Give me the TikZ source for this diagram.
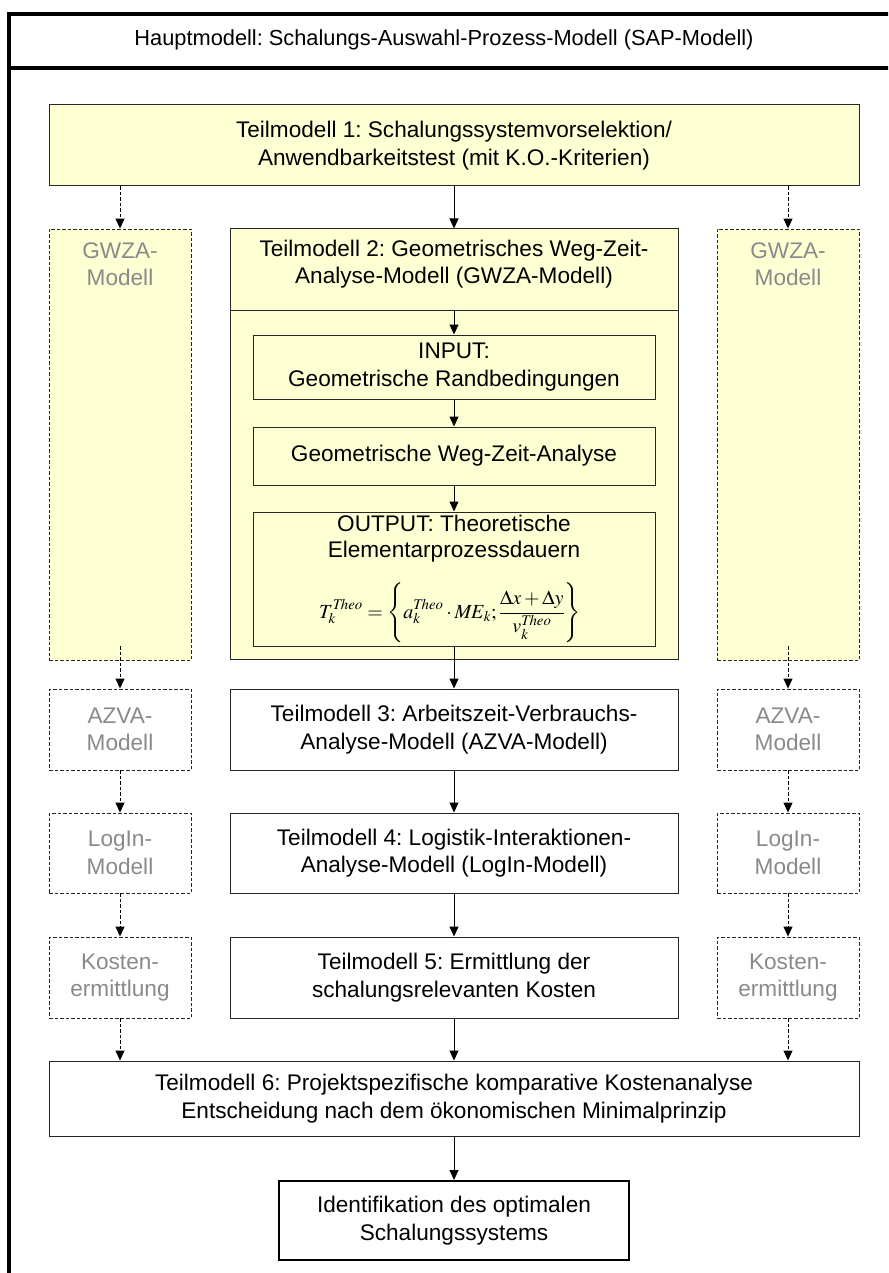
\documentclass[tikz,border=0pt]{standalone}
\usepackage{mathptmx}
\usepackage{fontspec}
\setmainfont{Liberation Sans}
\frenchspacing
\usetikzlibrary{arrows.meta}
\definecolor{boxyellow}{HTML}{FFFFD4}
\definecolor{softgray}{HTML}{8A8A8A}
\definecolor{edge}{HTML}{262626}
\newcommand{\bodyfont}{\fontsize{22.6}{27.5}\selectfont}
\tikzset{
  framepart/.style={line width=4pt, draw=black},
  solidbox/.style={draw=edge, line width=1pt, fill=white, inner sep=0pt, align=center, font=\bodyfont},
  yellowbox/.style={solidbox, fill=boxyellow},
  dashbox/.style={draw=edge, line width=0.9pt, dash pattern=on 3.5pt off 2pt, inner sep=0pt,
    align=center, font=\bodyfont, text=softgray, fill=white},
  label/.style={inner sep=0pt, align=center, font=\bodyfont},
  flow/.style={-{Triangle[length=10pt,width=9pt]}, line width=1pt, draw=black},
  dflow/.style={flow, dash pattern=on 3.5pt off 2pt}
}
\begin{document}
\begin{tikzpicture}[x=1pt,y=-1pt]
  \useasboundingbox (0,0) rectangle (888,1273);
  \clip (0,0) rectangle (888,1273);
  \fill[white] (0,0) rectangle (888,1273);

  % outer frame of the main model with its title bar
  \draw[framepart] (9,1290) -- (9,14) -- (900,14);
  \draw[framepart] (9,68) -- (900,68);
  \node[label, font=\fontsize{21.8}{26}\selectfont] (hdr) at (444,40)
    {Hauptmodell: Schalungs-Auswahl-Prozess-Modell (SAP-Modell)};

  % Teilmodell 1
  \node[yellowbox, minimum width=810, minimum height=81] (tm1) at (454,145.5)
    {Teilmodell 1: Schalungssystemvorselektion/\\Anwendbarkeitstest (mit K.O.-Kriterien)};

  % parallel GWZA models (left and right)
  \node[dashbox, fill=boxyellow, minimum width=142, minimum height=431] (gwzaL) at (120,444.5) {};
  \node[dashbox, fill=boxyellow, minimum width=142, minimum height=431] (gwzaR) at (788,444.5) {};
  \node[label, text=softgray] (gwzaLtxt) at (120,264) {GWZA-\\Modell};
  \node[label, text=softgray] (gwzaRtxt) at (788,264) {GWZA-\\Modell};

  % Teilmodell 2 with its inner steps
  \node[yellowbox, minimum width=448, minimum height=430] (tm2) at (454,444) {};
  \draw[edge, line width=1pt] (230,310) -- (678,310);
  \coordinate (tm2hd) at (454,310);
  \node[label] (tm2txt) at (454,264)
    {Teilmodell 2: Geometrisches Weg-Zeit-\\Analyse-Modell (GWZA-Modell)};
  \node[yellowbox, minimum width=402, minimum height=64] (in1) at (454,367)
    {INPUT:\\Geometrische Randbedingungen};
  \node[yellowbox, minimum width=402, minimum height=58] (in2) at (454,456)
    {Geometrische Weg-Zeit-Analyse};
  \node[yellowbox, minimum width=402, minimum height=134] (in3) at (454,579) {};
  \node[label, anchor=base] (outtxt1) at (454,531) {OUTPUT: Theoretische};
  \node[label, anchor=base] (outtxt2) at (454,557) {Elementarprozessdauern};
  \node[label, font=\fontsize{20}{24}\selectfont] (formula) at (450,613)
    {$\displaystyle T_k^{\mathit{Theo}} = \left\{ a_k^{\mathit{Theo}} \cdot \mathit{ME}_k;
      \frac{\Delta x + \Delta y}{v_k^{\mathit{Theo}}} \right\}$};
  \coordinate (gwzaLout) at (120,646);
  \coordinate (gwzaRout) at (788,646);

  % Teilmodelle 3 to 5 and their parallel counterparts
  \node[solidbox, minimum width=448, minimum height=81] (tm3) at (454,729.5)
    {Teilmodell 3: Arbeitszeit-Verbrauchs-\\Analyse-Modell (AZVA-Modell)};
  \node[dashbox, minimum width=142, minimum height=81] (azvaL) at (120,729.5) {AZVA-\\Modell};
  \node[dashbox, minimum width=142, minimum height=81] (azvaR) at (788,729.5) {AZVA-\\Modell};

  \node[solidbox, minimum width=448, minimum height=80] (tm4) at (454,853)
    {Teilmodell 4: Logistik-Interaktionen-\\Analyse-Modell (LogIn-Modell)};
  \node[dashbox, minimum width=142, minimum height=80] (loginL) at (120,853) {LogIn-\\Modell};
  \node[dashbox, minimum width=142, minimum height=80] (loginR) at (788,853) {LogIn-\\Modell};

  \node[solidbox, minimum width=448, minimum height=81] (tm5) at (454,977.5)
    {Teilmodell 5: Ermittlung der\\schalungsrelevanten Kosten};
  \node[dashbox, minimum width=142, minimum height=81] (kostL) at (120,977.5) {Kosten-\\ermittlung};
  \node[dashbox, minimum width=142, minimum height=81] (kostR) at (788,977.5) {Kosten-\\ermittlung};

  % Teilmodell 6 and result
  \node[solidbox, minimum width=810, minimum height=75] (tm6) at (454,1098.5)
    {Teilmodell 6: Projektspezifische komparative Kostenanalyse\\Entscheidung nach dem ökonomischen Minimalprinzip};
  \node[solidbox, line width=2pt, draw=black, minimum width=350, minimum height=79] (final) at (454,1220.5)
    {Identifikation des optimalen\\Schalungssystems};

  % main flow
  \draw[flow] (tm1.south) -- (tm2.north);
  \draw[flow] (tm2hd) -- (in1.north);
  \draw[flow] (in1.south) -- (in2.north);
  \draw[flow] (in2.south) -- (in3.north);
  \draw[flow] (in3.south) -- (tm3.north);
  \draw[flow] (tm3.south) -- (tm4.north);
  \draw[flow] (tm4.south) -- (tm5.north);
  \draw[flow] (tm5.south) -- (tm6.north);
  \draw[flow] (tm6.south) -- (final.north);

  % parallel flows (dashed)
  \draw[dflow] (tm1.south -| gwzaL.north) -- (gwzaL.north);
  \draw[dflow] (tm1.south -| gwzaR.north) -- (gwzaR.north);
  \draw[dflow] (gwzaLout) -- (azvaL.north);
  \draw[dflow] (gwzaRout) -- (azvaR.north);
  \draw[dflow] (azvaL.south) -- (loginL.north);
  \draw[dflow] (azvaR.south) -- (loginR.north);
  \draw[dflow] (loginL.south) -- (kostL.north);
  \draw[dflow] (loginR.south) -- (kostR.north);
  \draw[dflow] (kostL.south) -- (tm6.north -| kostL.south);
  \draw[dflow] (kostR.south) -- (tm6.north -| kostR.south);
\end{tikzpicture}
\end{document}
